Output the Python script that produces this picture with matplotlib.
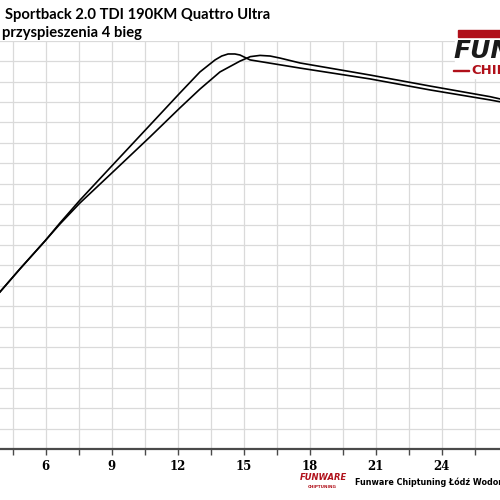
import matplotlib
matplotlib.use("Agg")
import matplotlib.pyplot as plt
from matplotlib.patches import Rectangle

# ---- data (x: axis units, y: grid units) ----
a_x = [3.92, 4.83, 5.97, 6.65, 7.56, 9.10, 10.74, 12.10, 13.01, 13.70, 14.00, 14.29, 14.60, 14.83, 15.29, 17.56, 20.74, 23.47, 26.20, 26.65]
a_y = [7.70, 8.83, 10.20, 11.08, 12.20, 13.98, 15.87, 17.44, 18.47, 19.06, 19.25, 19.35, 19.35, 19.30, 19.06, 18.66, 18.13, 17.59, 17.10, 17.01]

b_x = [3.92, 4.83, 5.97, 6.65, 7.56, 9.10, 10.74, 12.10, 13.01, 13.92, 14.83, 15.30, 15.74, 16.20, 16.65, 17.56, 20.74, 23.47, 26.20, 26.65]
b_y = [7.70, 8.83, 10.20, 11.03, 12.06, 13.62, 15.29, 16.71, 17.63, 18.47, 19.00, 19.22, 19.28, 19.25, 19.15, 18.91, 18.32, 17.78, 17.26, 17.15]

major_ticks = [6, 9, 12, 15, 18, 21, 24]
minor_ticks = [4.5, 7.5, 10.5, 13.5, 16.5, 19.5, 22.5, 25.5]
tick_labels = ["6", "9", "12", "15", "18", "21", "24"]

title1 = "Sportback 2.0 TDI 190KM Quattro Ultra"
title2 = "przyspieszenia 4 bieg"
footer = "Funware Chiptuning Łódź Wodorowa"

fig = plt.figure(figsize=(5, 5), dpi=100)
fig.patch.set_facecolor("white")
ax = fig.add_axes([0, 0.1014, 1, 0.8172])
ax.set_xlim(3.923, 26.65)
ax.set_ylim(0, 20)

# grid
for gx in major_ticks + minor_ticks:
    ax.axvline(gx, color="#dadada", lw=0.9, zorder=0)
for gy in range(1, 21):
    ax.axhline(gy, color="#dadada", lw=0.9, zorder=0)

ax.plot(a_x, a_y, color="black", lw=1.2, zorder=3)
ax.plot(b_x, b_y, color="black", lw=1.2, zorder=3)

for s in ["top", "right", "left"]:
    ax.spines[s].set_visible(False)
ax.spines["bottom"].set_color("#4a4a4a")
ax.spines["bottom"].set_linewidth(1.6)
ax.set_yticks([])
ax.set_xticks(major_ticks)
ax.set_xticks(minor_ticks, minor=True)
ax.set_xticklabels(tick_labels, fontfamily="DejaVu Serif", fontweight="bold", fontsize=8.5)
ax.tick_params(axis="x", which="both", direction="out", length=4, width=1, color="#4a4a4a", pad=4)

# titles
fig.text(0.01, 0.971, title1, fontfamily="Lato", fontweight="bold", fontsize=10.6, va="center", ha="left")
fig.text(0.005, 0.935, title2, fontfamily="Lato", fontweight="bold", fontsize=10.6, va="center", ha="left")

# top right logo
fig.patches.append(Rectangle((0.91, 0.845), 0.1, 0.1, transform=fig.transFigure, color="white", zorder=5))
fig.patches.append(Rectangle((0.915, 0.927), 0.09, 0.012, transform=fig.transFigure, color="#b0101a", zorder=6))
fig.text(0.907, 0.897, "FUNWARE", fontfamily="DejaVu Sans", fontweight="bold", style="italic",
         fontsize=18, color="#1a1a1a", va="center", ha="left", zorder=7)
fig.text(0.942, 0.86, "CHIPTUNING", fontfamily="DejaVu Sans", fontweight="bold",
         fontsize=9.5, color="#b0101a", va="center", ha="left", zorder=7)
fig.patches.append(Rectangle((0.905, 0.858), 0.032, 0.003, transform=fig.transFigure, color="#b0101a", zorder=6))

# bottom footer logo
fig.text(0.6, 0.044, "FUNWARE", fontfamily="DejaVu Sans", fontweight="bold", style="italic",
         fontsize=6, color="#b0101a", va="center", ha="left")
fig.text(0.615, 0.027, "CHIPTUNING", fontfamily="DejaVu Sans", fontweight="bold",
         fontsize=3, color="#b0101a", va="center", ha="left")
fig.text(0.71, 0.036, footer, fontfamily="DejaVu Sans", fontweight="bold", fontsize=5.8,
         color="black", va="center", ha="left")

fig.savefig("out.png", dpi=100)
